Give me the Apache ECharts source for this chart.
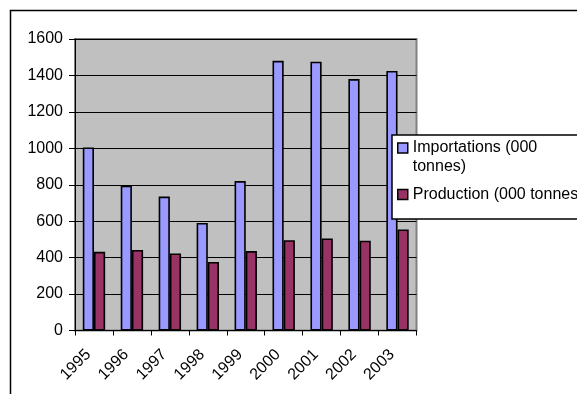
<!DOCTYPE html>
<html>
<head>
<meta charset="utf-8">
<script src="https://cdn.jsdelivr.net/npm/echarts@6/dist/echarts.min.js"></script>
<style>
html,body{margin:0;padding:0;background:#fff;}
#chart{width:577px;height:394px;}
</style>
</head>
<body>
<div id="chart"></div>
<script>
const categories = ['1995','1996','1997','1998','1999','2000','2001','2002','2003'];
const importations = [1005, 795, 735, 590, 820, 1480, 1475, 1380, 1425];
const production = [432, 442, 423, 376, 436, 496, 505, 493, 555];
const seriesNames = ['Importations (000 tonnes)', 'Production (000 tonnes)'];
const yTicks = {min: 0, max: 1600, interval: 200};

const FONT = 'Liberation Sans, Arial, sans-serif';
const chart = echarts.init(document.getElementById('chart'), null, {renderer: 'canvas'});

const option = {
  animation: false,
  backgroundColor: '#ffffff',
  textStyle: {fontFamily: FONT},
  grid: {
    left: 75, right: 160.5, top: 39, bottom: 63.5,
    show: true, backgroundColor: '#C0C0C0', borderColor: '#808080', borderWidth: 2,
    containLabel: false
  },
  xAxis: {
    type: 'category',
    data: categories,
    axisLine: {show: true, lineStyle: {color: '#000', width: 1}},
    axisTick: {show: true, alignWithLabel: false, length: 5, lineStyle: {color: '#000'}},
    axisLabel: {rotate: 45, margin: 16, padding: [0, 8, 0, 0], color: '#000', fontSize: 16, fontFamily: FONT},
    splitLine: {show: false}
  },
  yAxis: {
    type: 'value',
    min: yTicks.min, max: yTicks.max, interval: yTicks.interval,
    axisLine: {show: true, lineStyle: {color: '#000', width: 1}},
    axisTick: {show: true, length: 6, lineStyle: {color: '#000'}},
    axisLabel: {margin: 12, color: '#000', fontSize: 16, fontFamily: FONT, formatter: function (v) { return String(v); }},
    splitLine: {show: true, lineStyle: {color: '#000', width: 1}}
  },
  legend: [
    {
      data: [seriesNames[0]],
      orient: 'vertical',
      left: 397, top: 119.5,
      padding: 0,
      itemWidth: 10, itemHeight: 10,
      icon: 'rect',
      formatter: function () { return '\u00a0\nImportations (000\ntonnes)'; },
      textStyle: {fontSize: 16, fontFamily: FONT, color: '#000', lineHeight: 19},
      itemStyle: {borderColor: '#000', borderWidth: 1.5},
      selectedMode: false,
      z: 5
    },
    {
      data: [seriesNames[1]],
      orient: 'vertical',
      left: 397, top: 185,
      padding: 0,
      itemWidth: 10, itemHeight: 10,
      icon: 'rect',
      textStyle: {fontSize: 16, fontFamily: FONT, color: '#000', lineHeight: 19},
      itemStyle: {borderColor: '#000', borderWidth: 1.5},
      selectedMode: false,
      z: 5
    }
  ],
  graphic: [
    {
      type: 'rect', z: 3, silent: true,
      shape: {x: 392, y: 135, width: 300, height: 84},
      style: {fill: '#ffffff', stroke: '#000', lineWidth: 1.5}
    },
    {
      type: 'rect', z: 10, silent: true,
      shape: {x: 10.5, y: 10.5, width: 800, height: 600},
      style: {fill: 'none', stroke: '#000', lineWidth: 1.5}
    }
  ],
  series: [
    {
      name: seriesNames[0],
      type: 'bar',
      data: importations,
      barGap: '0%',
      barCategoryGap: '41%',
      itemStyle: {color: '#9999FF', borderColor: '#000', borderWidth: 1.6}
    },
    {
      name: seriesNames[1],
      type: 'bar',
      data: production,
      barGap: '0%',
      barCategoryGap: '41%',
      itemStyle: {color: '#993366', borderColor: '#000', borderWidth: 1.6}
    }
  ]
};
chart.setOption(option);
</script>
</body>
</html>
